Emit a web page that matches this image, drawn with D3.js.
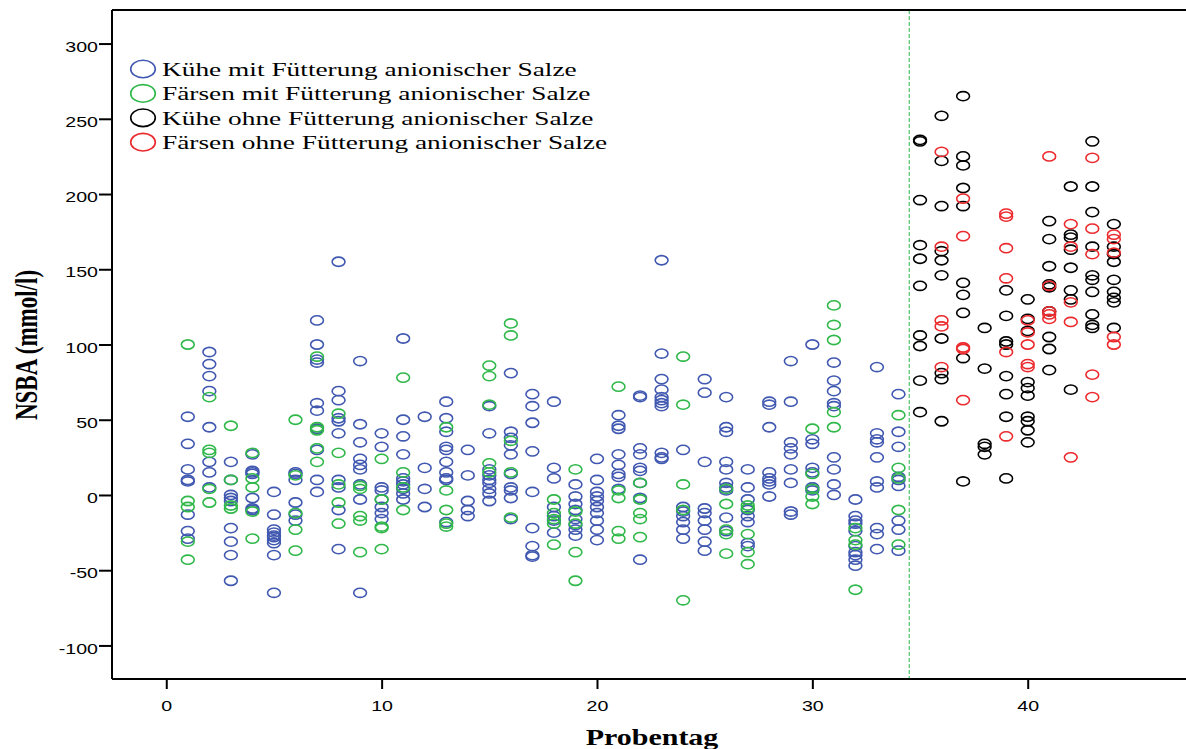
<!DOCTYPE html>
<html>
<head>
<meta charset="utf-8">
<script src="https://cdn.jsdelivr.net/npm/d3@7"></script>
<style>
body { margin: 0; background: #fff; }
svg { display: block; }
</style>
</head>
<body>
<script>
// one row per Probentag: [tag, NSBA values (mmol/l) ...]
var kueheMit = [
    [1, 52, 34, 17, 10, 9, -13, -24, -29],
    [2, 95, 87, 79, 69, 45, 22, 15, 5],
    [3, 22, 10, 0, -2, -4, -22, -31, -40, -57],
    [4, 27, 16, 15, 14, -2, -9, -10],
    [5, 2, -13, -23, -25, -27, -28, -30, -32, -40, -65],
    [6, 15, 14, 10, -5, -13, -17],
    [7, 116, 100, 90, 88, 61, 56, 44, 30, 10, 2],
    [8, 155, 69, 63, 51, 49, 41, 10, 5, -10, -36],
    [9, 89, 47, 35, 24, 20, 17, 7, -3, -65],
    [10, 41, 32, 5, 3, -3, -8, -12, -16],
    [11, 104, 50, 39, 27, 11, 9, 7, 4, 1, -3],
    [12, 52, 18, 4, -8],
    [13, 62, 51, 42, 32, 30, 22, 15, 11, 10, -18],
    [14, 30, 13, -4, -10, -14],
    [15, 59, 41, 17, 13, 10, 8, 4, 1, -4],
    [16, 81, 42, 38, 33, 27, 14, 5, 3, -2, -16],
    [17, 67, 59, 48, 29, 2, -22, -34, -40, -41],
    [18, 62, 18, 11, -8, -14, -17, -25],
    [19, 7, -1, -6, -10, -16, -20, -23, -27],
    [20, 24, 10, 2, -1, -4, -8, -12, -17, -23, -30],
    [21, 53, 46, 44, 27, 20, 14, 12, 4],
    [22, 66, 65, 31, 27, 18, 16, 8, -2, -43],
    [23, 156, 94, 77, 70, 65, 63, 61, 59, 28, 25, 24],
    [24, 30, -8, -11, -14, -18, -23, -29],
    [25, 77, 68, 22, -9, -12, -17, -23, -31, -37],
    [26, 65, 45, 42, 22, 17, 8, 5, 3, -15, -24],
    [27, 17, 5, -3, -10, -14, -18, -32, -34],
    [28, 62, 60, 45, 15, 11, 9, 7, -1],
    [29, 89, 62, 35, 31, 27, 17, 8, -11, -13],
    [30, 100, 37, 34, 18, 15, 5, 3],
    [31, 88, 76, 69, 61, 59, 25, 17, 7, 0],
    [32, -3, -14, -17, -19, -24, -34, -38, -40, -43, -47],
    [33, 85, 41, 37, 35, 25, 9, 5, -22, -26, -36],
    [34, 67, 42, 32, 12, 10, 6, -17, -23, -37]
];
var faersenMit = [
    [1, 100, -4, -8, -31, -43],
    [2, 65, 30, 28, 4, -5],
    [3, 46, 10, -7, -9],
    [4, 28, 11, 5, -11, -29],
    [6, 50, 13, -12, -23, -37],
    [7, 92, 45, 43, 31, 22],
    [8, 54, 28, 7, -5, -19],
    [9, 6, 4, -14, -17, -38],
    [10, 24, -3, -21, -22, -36],
    [11, 78, 15, 5, -10],
    [13, 45, 3, -10, -19, -21],
    [15, 86, 79, 60, 21, 15],
    [16, 114, 106, 36, 15, -15],
    [18, -3, -12, -16, -19, -33],
    [19, 17, -11, -19, -38, -57],
    [21, 72, 3, -2, -24, -29],
    [22, 8, -3, -12, -16, -28],
    [24, 92, 60, 7, -10, -70],
    [26, 4, -6, -23, -26, -39],
    [27, -7, -9, -26, -38, -46],
    [30, 44, 14, 4, -1, -6],
    [31, 126, 113, 103, 55, 45],
    [32, -22, -30, -33, -63],
    [34, 53, 18, 11, -10, -33]
];
var kueheOhne = [
    [35, 236, 235, 196, 166, 157, 139, 106, 99, 76, 55],
    [36, 252, 222, 192, 162, 156, 146, 104, 81, 77, 49],
    [37, 265, 225, 219, 204, 192, 141, 133, 121, 91, 9],
    [38, 111, 84, 34, 32, 27],
    [39, 136, 119, 102, 100, 79, 67, 52, 11],
    [40, 130, 117, 109, 75, 71, 66, 52, 49, 43, 35],
    [41, 182, 170, 152, 140, 138, 122, 105, 97, 83],
    [42, 205, 173, 171, 163, 151, 136, 130, 70],
    [43, 235, 205, 188, 165, 146, 143, 135, 120, 113, 111],
    [44, 180, 165, 160, 155, 143, 135, 131, 128, 111]
];
var faersenOhne = [
    [36, 228, 165, 116, 112, 85],
    [37, 197, 172, 98, 97, 63],
    [39, 187, 185, 164, 144, 95, 39],
    [40, 116, 108, 100, 87, 85],
    [41, 225, 139, 122, 120, 117],
    [42, 180, 165, 128, 115, 25],
    [43, 224, 177, 160, 80, 65],
    [44, 173, 170, 161, 105, 100]
];

var seriesNames = [
    "Kühe mit Fütterung anionischer Salze",
    "Färsen mit Fütterung anionischer Salze",
    "Kühe ohne Fütterung anionischer Salze",
    "Färsen ohne Fütterung anionischer Salze"
];
var seriesColors = ["#4058b0", "#30b84a", "#000000", "#ec2a2d"];
var xTicks = [0, 10, 20, 30, 40];
var yTicks = [-100, -50, 0, 50, 100, 150, 200, 250, 300];
var grenzeTag = 34.5;

var width = 1186, height = 749;
var stretch = 1.4; // the source picture is widened horizontally
var plot = { left: 112, right: 1186, top: 10, bottom: 679 };

var x = d3.scaleLinear().domain([-2.52, 47.35]).range([plot.left, plot.right]);
var y = d3.scaleLinear().domain([-122.3, 322.3]).range([plot.bottom, plot.top]);

var svg = d3.select("body").append("svg")
    .attr("width", width)
    .attr("height", height);

function flatten(rows, s) {
    var pts = [];
    rows.forEach(function (r) {
        for (var i = 1; i < r.length; i++) pts.push({ tag: r[0], v: r[i], s: s });
    });
    return pts;
}
var points = [].concat(
    flatten(kueheMit, 0), flatten(faersenMit, 1),
    flatten(kueheOhne, 2), flatten(faersenOhne, 3));

// separator between the two feeding groups
svg.append("line")
    .attr("x1", x(grenzeTag)).attr("x2", x(grenzeTag))
    .attr("y1", plot.top).attr("y2", plot.bottom)
    .attr("stroke", "#4cc466")
    .attr("stroke-width", 1.2)
    .attr("stroke-dasharray", "4,2");

svg.append("g").selectAll("ellipse")
    .data(points)
    .enter().append("ellipse")
    .attr("cx", function (d) { return x(d.tag); })
    .attr("cy", function (d) { return y(d.v); })
    .attr("rx", 6.4)
    .attr("ry", 4.6)
    .attr("fill", "none")
    .attr("stroke", function (d) { return seriesColors[d.s]; })
    .attr("stroke-width", 1.6);

// axes, plain hyphen for negative labels as in the source
var plain = function (d) { return String(d); };
var yAxis = svg.append("g")
    .attr("transform", "translate(" + plot.left + ",0)")
    .call(d3.axisLeft(y).tickValues(yTicks).tickFormat(plain).tickSize(13).tickSizeOuter(0));
var xAxis = svg.append("g")
    .attr("transform", "translate(0," + plot.bottom + ")")
    .call(d3.axisBottom(x).tickValues(xTicks).tickFormat(plain).tickSize(10).tickSizeOuter(0));
[yAxis, xAxis].forEach(function (g) {
    g.select(".domain").remove();
    g.selectAll(".tick line").attr("stroke", "#000").attr("stroke-width", 2);
    g.selectAll(".tick text")
        .attr("font-family", "'Liberation Sans', Arial, sans-serif")
        .attr("font-size", 14)
        .attr("fill", "#000");
});
yAxis.selectAll(".tick text")
    .attr("x", null).attr("dy", "0.55em")
    .attr("transform", "translate(-14,0) scale(" + stretch + ",1)");
xAxis.selectAll(".tick text")
    .attr("y", null).attr("dy", "1.45em")
    .attr("transform", "translate(0,12) scale(" + stretch + ",1)");

// frame
var frame = svg.append("g").attr("stroke", "#000").attr("stroke-width", 2).attr("fill", "none");
frame.append("line").attr("x1", plot.left).attr("x2", plot.left).attr("y1", plot.top).attr("y2", plot.bottom);
frame.append("line").attr("x1", plot.left).attr("x2", plot.right).attr("y1", plot.top).attr("y2", plot.top);
frame.append("line").attr("x1", plot.left).attr("x2", plot.right).attr("y1", plot.bottom).attr("y2", plot.bottom);

// axis titles
svg.append("text")
    .attr("transform", "translate(37,345) scale(" + stretch + ",1) rotate(-90)")
    .attr("text-anchor", "middle")
    .attr("font-family", "'Liberation Serif', 'Times New Roman', serif")
    .attr("font-weight", "bold")
    .attr("font-size", 23)
    .text("NSBA (mmol/l)");
svg.append("text")
    .attr("transform", "translate(652,745) scale(1.25,1)")
    .attr("text-anchor", "middle")
    .attr("font-family", "'Liberation Serif', 'Times New Roman', serif")
    .attr("font-weight", "bold")
    .attr("font-size", 24)
    .text("Probentag");

// legend
var legend = svg.append("g").selectAll("g")
    .data(seriesNames)
    .enter().append("g")
    .attr("transform", function (d, i) { return "translate(143," + (69 + i * 24.4) + ")"; });
legend.append("ellipse")
    .attr("rx", 12.3).attr("ry", 8.8)
    .attr("fill", "none")
    .attr("stroke", function (d, i) { return seriesColors[i]; })
    .attr("stroke-width", 1.6);
legend.append("text")
    .attr("transform", "translate(19,7) scale(1.44,1)")
    .attr("font-family", "'Liberation Serif', 'Times New Roman', serif")
    .attr("font-size", 19)
    .attr("fill", "#000")
    .text(function (d) { return d; });
</script>
</body>
</html>
